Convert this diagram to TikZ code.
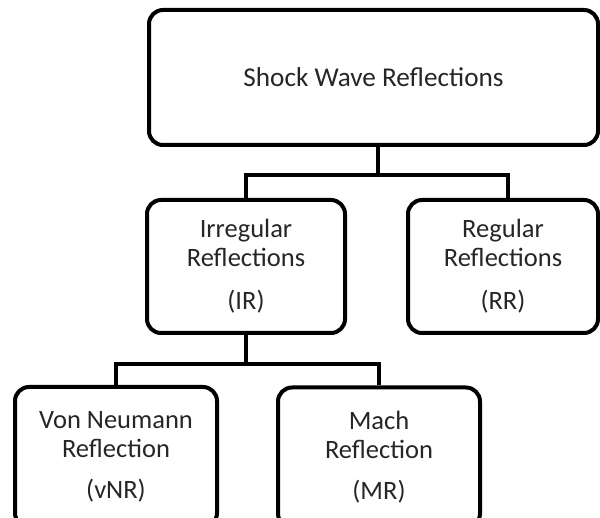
\documentclass[tikz,border=0pt]{standalone}
\usepackage{fontspec}
\setmainfont{Carlito}
\begin{document}
\begin{tikzpicture}[x=1pt,y=-1pt,
  box/.style={draw,line width=4pt,rounded corners=14pt,align=center,text=black!85,
    font=\fontsize{26.5}{29}\selectfont,inner sep=0pt},
  link/.style={line width=4pt}]
\useasboundingbox (0,0) rectangle (600,518);
\clip (0,0) rectangle (600,518);
% boxes
\node[box,minimum width=449pt,minimum height=135pt,font=\fontsize{27.2}{29}\selectfont] (swr) at (373.5,77.5) {Shock Wave Reflections};
\node[box,minimum width=198pt,minimum height=133pt] (ir) at (246,266.5) {Irregular\\Reflections\\[14pt](IR)};
\node[box,minimum width=190pt,minimum height=133pt] (rr) at (503,266.5) {Regular\\Reflections\\[14pt](RR)};
\node[box,minimum width=202pt,minimum height=140pt] (vnr) at (116,457) {Von Neumann\\Reflection\\[12pt](vNR)};
\node[box,minimum width=202pt,minimum height=140pt] (mr) at (379,457.5) {Mach\\Reflection\\[12pt](MR)};
% connectors
\draw[link] ([xshift=4.5pt]swr.south) -- ++(0pt,-28pt) coordinate (bus1);
\draw[link] (ir.north) |- (bus1) -| ([xshift=5pt]rr.north);
\draw[link] (ir.south) -- ++(0pt,-29pt) coordinate (bus2);
\draw[link] (vnr.north) |- (bus2) -| (mr.north);
\end{tikzpicture}
\end{document}
